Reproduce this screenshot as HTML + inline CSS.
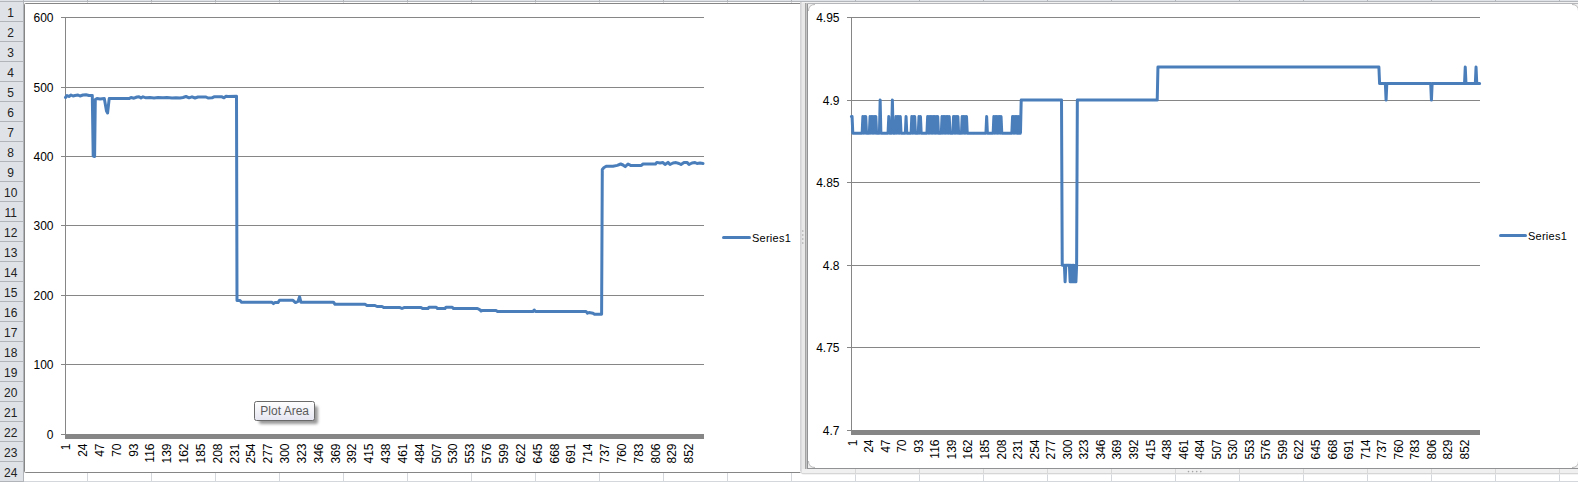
<!DOCTYPE html><html><head><meta charset="utf-8"><style>html,body{margin:0;padding:0;background:#fff;overflow:hidden}svg{display:block}text{font-family:"Liberation Sans",sans-serif}</style></head><body>
<svg width="1578" height="482" viewBox="0 0 1578 482">
<rect x="0" y="0" width="1578" height="482" fill="#fff"/>
<g fill="#d4d7dc">
<rect x="23" y="2" width="1" height="480"/>
<rect x="87" y="2" width="1" height="480"/>
<rect x="151" y="2" width="1" height="480"/>
<rect x="215" y="2" width="1" height="480"/>
<rect x="279" y="2" width="1" height="480"/>
<rect x="343" y="2" width="1" height="480"/>
<rect x="407" y="2" width="1" height="480"/>
<rect x="471" y="2" width="1" height="480"/>
<rect x="535" y="2" width="1" height="480"/>
<rect x="599" y="2" width="1" height="480"/>
<rect x="663" y="2" width="1" height="480"/>
<rect x="727" y="2" width="1" height="480"/>
<rect x="791" y="2" width="1" height="480"/>
<rect x="855" y="2" width="1" height="480"/>
<rect x="919" y="2" width="1" height="480"/>
<rect x="983" y="2" width="1" height="480"/>
<rect x="1047" y="2" width="1" height="480"/>
<rect x="1111" y="2" width="1" height="480"/>
<rect x="1175" y="2" width="1" height="480"/>
<rect x="1239" y="2" width="1" height="480"/>
<rect x="1303" y="2" width="1" height="480"/>
<rect x="1367" y="2" width="1" height="480"/>
<rect x="1431" y="2" width="1" height="480"/>
<rect x="1495" y="2" width="1" height="480"/>
<rect x="1559" y="2" width="1" height="480"/>
<rect x="1623" y="2" width="1" height="480"/>
<rect x="23" y="21" width="1555" height="1"/>
<rect x="23" y="41" width="1555" height="1"/>
<rect x="23" y="61" width="1555" height="1"/>
<rect x="23" y="81" width="1555" height="1"/>
<rect x="23" y="101" width="1555" height="1"/>
<rect x="23" y="121" width="1555" height="1"/>
<rect x="23" y="141" width="1555" height="1"/>
<rect x="23" y="161" width="1555" height="1"/>
<rect x="23" y="181" width="1555" height="1"/>
<rect x="23" y="201" width="1555" height="1"/>
<rect x="23" y="221" width="1555" height="1"/>
<rect x="23" y="241" width="1555" height="1"/>
<rect x="23" y="261" width="1555" height="1"/>
<rect x="23" y="281" width="1555" height="1"/>
<rect x="23" y="301" width="1555" height="1"/>
<rect x="23" y="321" width="1555" height="1"/>
<rect x="23" y="341" width="1555" height="1"/>
<rect x="23" y="361" width="1555" height="1"/>
<rect x="23" y="381" width="1555" height="1"/>
<rect x="23" y="401" width="1555" height="1"/>
<rect x="23" y="421" width="1555" height="1"/>
<rect x="23" y="441" width="1555" height="1"/>
<rect x="23" y="461" width="1555" height="1"/>
<rect x="23" y="481" width="1555" height="1"/>
</g>
<rect x="0" y="0" width="1578" height="1" fill="#e0e3e8"/>
<rect x="0" y="1" width="1578" height="1" fill="#b3b6bb"/>
<rect x="23" y="0" width="1" height="2" fill="#b3b6bb"/>
<rect x="87" y="0" width="1" height="2" fill="#b3b6bb"/>
<rect x="151" y="0" width="1" height="2" fill="#b3b6bb"/>
<rect x="215" y="0" width="1" height="2" fill="#b3b6bb"/>
<rect x="279" y="0" width="1" height="2" fill="#b3b6bb"/>
<rect x="343" y="0" width="1" height="2" fill="#b3b6bb"/>
<rect x="407" y="0" width="1" height="2" fill="#b3b6bb"/>
<rect x="471" y="0" width="1" height="2" fill="#b3b6bb"/>
<rect x="535" y="0" width="1" height="2" fill="#b3b6bb"/>
<rect x="599" y="0" width="1" height="2" fill="#b3b6bb"/>
<rect x="663" y="0" width="1" height="2" fill="#b3b6bb"/>
<rect x="727" y="0" width="1" height="2" fill="#b3b6bb"/>
<rect x="791" y="0" width="1" height="2" fill="#b3b6bb"/>
<rect x="855" y="0" width="1" height="2" fill="#b3b6bb"/>
<rect x="919" y="0" width="1" height="2" fill="#b3b6bb"/>
<rect x="983" y="0" width="1" height="2" fill="#b3b6bb"/>
<rect x="1047" y="0" width="1" height="2" fill="#b3b6bb"/>
<rect x="1111" y="0" width="1" height="2" fill="#b3b6bb"/>
<rect x="1175" y="0" width="1" height="2" fill="#b3b6bb"/>
<rect x="1239" y="0" width="1" height="2" fill="#b3b6bb"/>
<rect x="1303" y="0" width="1" height="2" fill="#b3b6bb"/>
<rect x="1367" y="0" width="1" height="2" fill="#b3b6bb"/>
<rect x="1431" y="0" width="1" height="2" fill="#b3b6bb"/>
<rect x="1495" y="0" width="1" height="2" fill="#b3b6bb"/>
<rect x="1559" y="0" width="1" height="2" fill="#b3b6bb"/>
<rect x="1623" y="0" width="1" height="2" fill="#b3b6bb"/>
<rect x="0" y="2" width="23" height="480" fill="#dfe3e8"/>
<rect x="23" y="0" width="1" height="482" fill="#b1b5ba"/>
<g fill="#b1b5ba">
<rect x="0" y="21" width="23" height="1"/>
<rect x="0" y="41" width="23" height="1"/>
<rect x="0" y="61" width="23" height="1"/>
<rect x="0" y="81" width="23" height="1"/>
<rect x="0" y="101" width="23" height="1"/>
<rect x="0" y="121" width="23" height="1"/>
<rect x="0" y="141" width="23" height="1"/>
<rect x="0" y="161" width="23" height="1"/>
<rect x="0" y="181" width="23" height="1"/>
<rect x="0" y="201" width="23" height="1"/>
<rect x="0" y="221" width="23" height="1"/>
<rect x="0" y="241" width="23" height="1"/>
<rect x="0" y="261" width="23" height="1"/>
<rect x="0" y="281" width="23" height="1"/>
<rect x="0" y="301" width="23" height="1"/>
<rect x="0" y="321" width="23" height="1"/>
<rect x="0" y="341" width="23" height="1"/>
<rect x="0" y="361" width="23" height="1"/>
<rect x="0" y="381" width="23" height="1"/>
<rect x="0" y="401" width="23" height="1"/>
<rect x="0" y="421" width="23" height="1"/>
<rect x="0" y="441" width="23" height="1"/>
<rect x="0" y="461" width="23" height="1"/>
<rect x="0" y="481" width="23" height="1"/>
</g>
<g font-size="12" fill="#222" text-anchor="middle">
<text x="10.7" y="16.5">1</text>
<text x="10.7" y="36.5">2</text>
<text x="10.7" y="56.5">3</text>
<text x="10.7" y="76.5">4</text>
<text x="10.7" y="96.5">5</text>
<text x="10.7" y="116.5">6</text>
<text x="10.7" y="136.5">7</text>
<text x="10.7" y="156.5">8</text>
<text x="10.7" y="176.5">9</text>
<text x="10.7" y="196.5">10</text>
<text x="10.7" y="216.5">11</text>
<text x="10.7" y="236.5">12</text>
<text x="10.7" y="256.5">13</text>
<text x="10.7" y="276.5">14</text>
<text x="10.7" y="296.5">15</text>
<text x="10.7" y="316.5">16</text>
<text x="10.7" y="336.5">17</text>
<text x="10.7" y="356.5">18</text>
<text x="10.7" y="376.5">19</text>
<text x="10.7" y="396.5">20</text>
<text x="10.7" y="416.5">21</text>
<text x="10.7" y="436.5">22</text>
<text x="10.7" y="456.5">23</text>
<text x="10.7" y="476.5">24</text>
</g>
<rect x="24.5" y="3.5" width="790" height="469" rx="1" fill="#fff" stroke="#868686" stroke-width="1"/>
<g fill="#868686">
<rect x="61" y="17" width="643" height="1"/>
<rect x="61" y="87" width="643" height="1"/>
<rect x="61" y="156" width="643" height="1"/>
<rect x="61" y="225" width="643" height="1"/>
<rect x="61" y="295" width="643" height="1"/>
<rect x="61" y="364" width="643" height="1"/>
<rect x="61" y="434" width="4" height="1"/>
<rect x="65" y="17" width="1" height="418"/>
<rect x="65" y="434" width="639" height="5"/>
</g>
<g font-size="12" fill="#000" text-anchor="end">
<text x="53.5" y="22.3">600</text>
<text x="53.5" y="92.3">500</text>
<text x="53.5" y="161.3">400</text>
<text x="53.5" y="230.3">300</text>
<text x="53.5" y="300.3">200</text>
<text x="53.5" y="369.3">100</text>
<text x="53.5" y="439.3">0</text>
</g>
<g font-size="12" fill="#000" text-anchor="end">
<text transform="translate(70.16,443.5) rotate(-90)" x="0" y="0">1</text>
<text transform="translate(87.00,443.5) rotate(-90)" x="0" y="0">24</text>
<text transform="translate(103.84,443.5) rotate(-90)" x="0" y="0">47</text>
<text transform="translate(120.68,443.5) rotate(-90)" x="0" y="0">70</text>
<text transform="translate(137.52,443.5) rotate(-90)" x="0" y="0">93</text>
<text transform="translate(154.36,443.5) rotate(-90)" x="0" y="0">116</text>
<text transform="translate(171.20,443.5) rotate(-90)" x="0" y="0">139</text>
<text transform="translate(188.04,443.5) rotate(-90)" x="0" y="0">162</text>
<text transform="translate(204.88,443.5) rotate(-90)" x="0" y="0">185</text>
<text transform="translate(221.72,443.5) rotate(-90)" x="0" y="0">208</text>
<text transform="translate(238.56,443.5) rotate(-90)" x="0" y="0">231</text>
<text transform="translate(255.40,443.5) rotate(-90)" x="0" y="0">254</text>
<text transform="translate(272.24,443.5) rotate(-90)" x="0" y="0">277</text>
<text transform="translate(289.08,443.5) rotate(-90)" x="0" y="0">300</text>
<text transform="translate(305.92,443.5) rotate(-90)" x="0" y="0">323</text>
<text transform="translate(322.76,443.5) rotate(-90)" x="0" y="0">346</text>
<text transform="translate(339.60,443.5) rotate(-90)" x="0" y="0">369</text>
<text transform="translate(356.44,443.5) rotate(-90)" x="0" y="0">392</text>
<text transform="translate(373.28,443.5) rotate(-90)" x="0" y="0">415</text>
<text transform="translate(390.12,443.5) rotate(-90)" x="0" y="0">438</text>
<text transform="translate(406.96,443.5) rotate(-90)" x="0" y="0">461</text>
<text transform="translate(423.80,443.5) rotate(-90)" x="0" y="0">484</text>
<text transform="translate(440.64,443.5) rotate(-90)" x="0" y="0">507</text>
<text transform="translate(457.48,443.5) rotate(-90)" x="0" y="0">530</text>
<text transform="translate(474.32,443.5) rotate(-90)" x="0" y="0">553</text>
<text transform="translate(491.16,443.5) rotate(-90)" x="0" y="0">576</text>
<text transform="translate(508.00,443.5) rotate(-90)" x="0" y="0">599</text>
<text transform="translate(524.84,443.5) rotate(-90)" x="0" y="0">622</text>
<text transform="translate(541.68,443.5) rotate(-90)" x="0" y="0">645</text>
<text transform="translate(558.52,443.5) rotate(-90)" x="0" y="0">668</text>
<text transform="translate(575.36,443.5) rotate(-90)" x="0" y="0">691</text>
<text transform="translate(592.20,443.5) rotate(-90)" x="0" y="0">714</text>
<text transform="translate(609.04,443.5) rotate(-90)" x="0" y="0">737</text>
<text transform="translate(625.88,443.5) rotate(-90)" x="0" y="0">760</text>
<text transform="translate(642.72,443.5) rotate(-90)" x="0" y="0">783</text>
<text transform="translate(659.56,443.5) rotate(-90)" x="0" y="0">806</text>
<text transform="translate(676.40,443.5) rotate(-90)" x="0" y="0">829</text>
<text transform="translate(693.24,443.5) rotate(-90)" x="0" y="0">852</text>
</g>
<polyline points="65.50,97.50 67.00,95.50 69.00,96.50 71.00,95.00 73.00,96.00 75.00,95.50 78.00,95.00 80.00,96.00 83.00,95.00 86.00,94.80 89.00,95.50 92.30,95.50 93.20,156.00 94.60,156.50 95.30,99.50 97.00,98.50 100.00,99.00 104.30,98.50 106.50,111.00 107.60,113.00 109.20,98.60 129.00,98.60 131.00,97.50 134.00,98.20 137.00,97.00 139.00,96.80 141.00,98.00 143.00,96.80 146.00,97.80 150.00,97.60 154.00,98.00 158.00,97.50 163.00,97.80 167.00,97.50 172.00,98.00 176.00,97.80 180.00,98.00 183.00,97.50 186.00,96.50 189.00,97.80 192.00,96.80 195.00,98.00 198.00,97.00 206.00,97.00 208.00,98.00 212.00,97.80 214.00,96.80 222.00,96.80 224.00,97.80 226.00,96.20 228.00,96.50 236.50,96.30 237.00,300.40 240.00,300.60 241.50,302.30 272.00,302.30 273.50,303.60 275.00,302.60 278.00,302.60 279.50,300.30 293.00,300.30 295.50,302.60 298.00,301.50 299.60,296.80 301.00,302.30 333.50,302.30 335.00,304.20 365.00,304.20 367.00,305.50 375.00,305.50 377.00,306.50 382.00,306.50 384.00,307.60 400.00,307.60 402.00,308.50 404.00,307.60 421.00,307.50 422.50,308.50 428.00,308.50 429.00,307.20 436.00,307.20 437.50,308.50 445.00,308.50 446.00,307.20 452.00,307.20 453.50,308.50 477.50,308.50 480.00,309.80 481.00,311.00 482.50,310.40 496.00,310.40 497.50,311.40 533.00,311.40 534.20,310.00 535.50,311.40 586.00,311.40 587.50,313.20 589.00,312.50 593.00,313.20 594.50,314.20 601.60,314.20 602.30,169.50 604.00,167.50 606.60,166.20 613.00,166.20 617.30,165.40 620.70,164.00 623.00,165.00 625.20,166.60 628.00,164.00 630.60,165.40 641.40,165.40 643.00,164.00 655.50,164.10 656.80,162.40 660.00,163.00 663.00,162.60 665.00,164.50 668.00,162.40 670.00,164.50 673.00,163.00 676.00,162.60 679.00,163.50 681.00,164.50 684.00,162.50 687.00,162.40 689.00,164.50 692.00,163.00 695.00,162.50 697.00,163.50 700.00,163.00 703.00,163.50" fill="none" stroke="#4a7ebb" stroke-width="3" stroke-linejoin="round" stroke-linecap="round"/>
<line x1="723.5" y1="237.5" x2="749.5" y2="237.5" stroke="#4a7ebb" stroke-width="3" stroke-linecap="round"/>
<text x="752" y="241.5" font-size="11" letter-spacing="0.25" fill="#000">Series1</text>
<defs><linearGradient id="tg" x1="0" y1="0" x2="0" y2="1"><stop offset="0" stop-color="#ffffff"/><stop offset="1" stop-color="#e4e5f0"/></linearGradient><filter id="sh" x="-20%" y="-20%" width="150%" height="160%"><feGaussianBlur stdDeviation="1.5"/></filter></defs>
<rect x="259" y="406" width="59" height="18" rx="2" fill="#000" opacity="0.4" filter="url(#sh)"/>
<rect x="254.5" y="401.5" width="60" height="19" rx="2" fill="url(#tg)" stroke="#6a6a6a" stroke-width="1"/>
<text x="260.3" y="415.3" font-size="12" fill="#5a5a5a">Plot Area</text>
<path d="M800,2 L1578,2 L1578,474.6 L803.5,474.6 Q800,474.6 800,471 Z" fill="#e8e8e8"/>
<rect x="800" y="2" width="1" height="469" fill="#d4d4d6"/>
<rect x="801" y="2" width="1" height="471" fill="#dcdcde"/>
<rect x="802" y="469" width="776" height="5" fill="#f0f0f0"/>
<rect x="802" y="473" width="776" height="1" fill="#d6d6d6"/>
<rect x="855" y="469" width="1" height="5" fill="#d8d8d8"/>
<rect x="919" y="469" width="1" height="5" fill="#d8d8d8"/>
<rect x="983" y="469" width="1" height="5" fill="#d8d8d8"/>
<rect x="1047" y="469" width="1" height="5" fill="#d8d8d8"/>
<rect x="1111" y="469" width="1" height="5" fill="#d8d8d8"/>
<rect x="1175" y="469" width="1" height="5" fill="#d8d8d8"/>
<rect x="1239" y="469" width="1" height="5" fill="#d8d8d8"/>
<rect x="1303" y="469" width="1" height="5" fill="#d8d8d8"/>
<rect x="1367" y="469" width="1" height="5" fill="#d8d8d8"/>
<rect x="1431" y="469" width="1" height="5" fill="#d8d8d8"/>
<rect x="1495" y="469" width="1" height="5" fill="#d8d8d8"/>
<rect x="1559" y="469" width="1" height="5" fill="#d8d8d8"/>
<rect x="1623" y="469" width="1" height="5" fill="#d8d8d8"/>
<rect x="805" y="2" width="1" height="467" fill="#a4a4a4"/>
<rect x="806" y="2" width="1" height="467" fill="#c4c4c4"/>
<rect x="807" y="3" width="772" height="466" fill="#f0f0f0"/>
<rect x="807" y="3" width="1" height="466" fill="#909294"/>
<rect x="807" y="468" width="772" height="1" fill="#909294"/>
<rect x="802" y="2" width="776" height="1" fill="#f2f2f2"/>
<rect x="807" y="3" width="772" height="1" fill="#b5b6b9"/>
<path d="M808,11 Q808,4 815,4 L1572,4 Q1579,4 1579,11 L1579,461 Q1579,468 1572,468 L815,468 Q808,468 808,461 Z" fill="#fff"/>
<g fill="none" stroke="#b8b8b8" stroke-width="1"><path d="M808.5,11 Q808.5,4.5 815,4.5"/><path d="M808.5,461 Q808.5,467.5 815,467.5"/><path d="M1572,4.5 Q1578.5,4.5 1578.5,11"/><path d="M1572,467.5 Q1578.5,467.5 1578.5,461"/></g>
<g fill="#a4a4a4">
<circle cx="802.8" cy="231" r="0.8"/>
<circle cx="802.8" cy="235" r="0.8"/>
<circle cx="802.8" cy="239" r="0.8"/>
<circle cx="802.8" cy="243" r="0.8"/>
<circle cx="1188.5" cy="471.6" r="0.8"/>
<circle cx="1192.6" cy="471.6" r="0.8"/>
<circle cx="1196.7" cy="471.6" r="0.8"/>
<circle cx="1200.8" cy="471.6" r="0.8"/>
</g>
<g fill="#868686">
<rect x="847" y="17" width="633" height="1"/>
<rect x="847" y="100" width="633" height="1"/>
<rect x="847" y="182" width="633" height="1"/>
<rect x="847" y="265" width="633" height="1"/>
<rect x="847" y="347" width="633" height="1"/>
<rect x="847" y="430" width="4" height="1"/>
<rect x="851" y="17" width="1" height="414"/>
<rect x="851" y="430" width="629" height="5"/>
</g>
<g font-size="12" fill="#000" text-anchor="end">
<text x="839.5" y="22.3">4.95</text>
<text x="839.5" y="105.3">4.9</text>
<text x="839.5" y="187.3">4.85</text>
<text x="839.5" y="270.3">4.8</text>
<text x="839.5" y="352.3">4.75</text>
<text x="839.5" y="435.3">4.7</text>
</g>
<g font-size="12" fill="#000" text-anchor="end">
<text transform="translate(856.55,439.5) rotate(-90)" x="0" y="0">1</text>
<text transform="translate(873.10,439.5) rotate(-90)" x="0" y="0">24</text>
<text transform="translate(889.66,439.5) rotate(-90)" x="0" y="0">47</text>
<text transform="translate(906.21,439.5) rotate(-90)" x="0" y="0">70</text>
<text transform="translate(922.76,439.5) rotate(-90)" x="0" y="0">93</text>
<text transform="translate(939.32,439.5) rotate(-90)" x="0" y="0">116</text>
<text transform="translate(955.87,439.5) rotate(-90)" x="0" y="0">139</text>
<text transform="translate(972.42,439.5) rotate(-90)" x="0" y="0">162</text>
<text transform="translate(988.97,439.5) rotate(-90)" x="0" y="0">185</text>
<text transform="translate(1005.53,439.5) rotate(-90)" x="0" y="0">208</text>
<text transform="translate(1022.08,439.5) rotate(-90)" x="0" y="0">231</text>
<text transform="translate(1038.63,439.5) rotate(-90)" x="0" y="0">254</text>
<text transform="translate(1055.19,439.5) rotate(-90)" x="0" y="0">277</text>
<text transform="translate(1071.74,439.5) rotate(-90)" x="0" y="0">300</text>
<text transform="translate(1088.29,439.5) rotate(-90)" x="0" y="0">323</text>
<text transform="translate(1104.85,439.5) rotate(-90)" x="0" y="0">346</text>
<text transform="translate(1121.40,439.5) rotate(-90)" x="0" y="0">369</text>
<text transform="translate(1137.95,439.5) rotate(-90)" x="0" y="0">392</text>
<text transform="translate(1154.50,439.5) rotate(-90)" x="0" y="0">415</text>
<text transform="translate(1171.06,439.5) rotate(-90)" x="0" y="0">438</text>
<text transform="translate(1187.61,439.5) rotate(-90)" x="0" y="0">461</text>
<text transform="translate(1204.16,439.5) rotate(-90)" x="0" y="0">484</text>
<text transform="translate(1220.72,439.5) rotate(-90)" x="0" y="0">507</text>
<text transform="translate(1237.27,439.5) rotate(-90)" x="0" y="0">530</text>
<text transform="translate(1253.82,439.5) rotate(-90)" x="0" y="0">553</text>
<text transform="translate(1270.38,439.5) rotate(-90)" x="0" y="0">576</text>
<text transform="translate(1286.93,439.5) rotate(-90)" x="0" y="0">599</text>
<text transform="translate(1303.48,439.5) rotate(-90)" x="0" y="0">622</text>
<text transform="translate(1320.03,439.5) rotate(-90)" x="0" y="0">645</text>
<text transform="translate(1336.59,439.5) rotate(-90)" x="0" y="0">668</text>
<text transform="translate(1353.14,439.5) rotate(-90)" x="0" y="0">691</text>
<text transform="translate(1369.69,439.5) rotate(-90)" x="0" y="0">714</text>
<text transform="translate(1386.25,439.5) rotate(-90)" x="0" y="0">737</text>
<text transform="translate(1402.80,439.5) rotate(-90)" x="0" y="0">760</text>
<text transform="translate(1419.35,439.5) rotate(-90)" x="0" y="0">783</text>
<text transform="translate(1435.90,439.5) rotate(-90)" x="0" y="0">806</text>
<text transform="translate(1452.46,439.5) rotate(-90)" x="0" y="0">829</text>
<text transform="translate(1469.01,439.5) rotate(-90)" x="0" y="0">852</text>
</g>
<polyline points="851.36,116.62 852.08,116.62 852.80,133.14 853.52,133.14 854.24,133.14 854.96,133.14 855.68,133.14 856.40,133.14 857.12,133.14 857.84,133.14 858.56,133.14 859.28,133.14 860.00,133.14 860.72,133.14 861.44,133.14 862.16,133.14 862.87,116.62 863.59,133.14 864.31,116.62 865.03,133.14 865.75,116.62 866.47,133.14 867.19,133.14 867.91,133.14 868.63,133.14 869.35,133.14 870.07,116.62 870.79,133.14 871.51,116.62 872.23,133.14 872.95,116.62 873.67,133.14 874.39,116.62 875.11,133.14 875.83,116.62 876.55,133.14 877.27,133.14 877.99,133.14 878.71,133.14 879.43,133.14 880.15,100.10 880.87,133.14 881.59,133.14 882.31,133.14 883.03,133.14 883.75,133.14 884.47,133.14 885.18,133.14 885.90,133.14 886.62,133.14 887.34,133.14 888.06,133.14 888.78,116.62 889.50,133.14 890.22,133.14 890.94,133.14 891.66,133.14 892.38,100.10 893.10,133.14 893.82,133.14 894.54,133.14 895.26,133.14 895.98,116.62 896.70,133.14 897.42,116.62 898.14,133.14 898.86,116.62 899.58,133.14 900.30,116.62 901.02,133.14 901.74,133.14 902.46,133.14 903.18,133.14 903.90,133.14 904.62,133.14 905.34,133.14 906.06,116.62 906.78,133.14 907.49,133.14 908.21,133.14 908.93,133.14 909.65,133.14 910.37,133.14 911.09,133.14 911.81,116.62 912.53,133.14 913.25,116.62 913.97,133.14 914.69,116.62 915.41,133.14 916.13,133.14 916.85,133.14 917.57,133.14 918.29,133.14 919.01,116.62 919.73,133.14 920.45,116.62 921.17,133.14 921.89,133.14 922.61,133.14 923.33,133.14 924.05,133.14 924.77,133.14 925.49,133.14 926.21,133.14 926.93,133.14 927.65,116.62 928.37,133.14 929.09,116.62 929.80,133.14 930.52,116.62 931.24,133.14 931.96,116.62 932.68,133.14 933.40,116.62 934.12,133.14 934.84,116.62 935.56,133.14 936.28,116.62 937.00,133.14 937.72,116.62 938.44,133.14 939.16,133.14 939.88,133.14 940.60,133.14 941.32,133.14 942.04,116.62 942.76,133.14 943.48,116.62 944.20,133.14 944.92,116.62 945.64,133.14 946.36,116.62 947.08,133.14 947.80,116.62 948.52,133.14 949.24,116.62 949.96,133.14 950.68,133.14 951.40,133.14 952.11,133.14 952.83,133.14 953.55,116.62 954.27,133.14 954.99,116.62 955.71,133.14 956.43,116.62 957.15,133.14 957.87,116.62 958.59,133.14 959.31,133.14 960.03,133.14 960.75,133.14 961.47,133.14 962.19,116.62 962.91,133.14 963.63,116.62 964.35,133.14 965.07,116.62 965.79,133.14 966.51,116.62 967.23,133.14 967.95,133.14 968.67,133.14 969.39,133.14 970.11,133.14 970.83,133.14 971.55,133.14 972.27,133.14 972.99,133.14 973.71,133.14 974.43,133.14 975.14,133.14 975.86,133.14 976.58,133.14 977.30,133.14 978.02,133.14 978.74,133.14 979.46,133.14 980.18,133.14 980.90,133.14 981.62,133.14 982.34,133.14 983.06,133.14 983.78,133.14 984.50,133.14 985.22,133.14 985.94,133.14 986.66,116.62 987.38,133.14 988.10,133.14 988.82,133.14 989.54,133.14 990.26,133.14 990.98,133.14 991.70,133.14 992.42,133.14 993.14,133.14 993.86,116.62 994.58,133.14 995.30,116.62 996.02,133.14 996.74,116.62 997.45,133.14 998.17,116.62 998.89,133.14 999.61,116.62 1000.33,133.14 1001.05,116.62 1001.77,133.14 1002.49,133.14 1003.21,133.14 1003.93,133.14 1004.65,133.14 1005.37,133.14 1006.09,133.14 1006.81,133.14 1007.53,133.14 1008.25,133.14 1008.97,133.14 1009.69,133.14 1010.41,133.14 1011.13,133.14 1011.85,133.14 1012.57,116.62 1013.29,133.14 1014.01,116.62 1014.73,133.14 1015.45,116.62 1016.17,133.14 1016.89,116.62 1017.61,133.14 1018.33,116.62 1019.05,133.14 1019.76,116.62 1020.48,133.14 1021.20,100.10 1021.92,100.10 1022.64,100.10 1023.36,100.10 1024.08,100.10 1024.80,100.10 1025.52,100.10 1026.24,100.10 1026.96,100.10 1027.68,100.10 1028.40,100.10 1029.12,100.10 1029.84,100.10 1030.56,100.10 1031.28,100.10 1032.00,100.10 1032.72,100.10 1033.44,100.10 1034.16,100.10 1034.88,100.10 1035.60,100.10 1036.32,100.10 1037.04,100.10 1037.76,100.10 1038.48,100.10 1039.20,100.10 1039.92,100.10 1040.64,100.10 1041.36,100.10 1042.07,100.10 1042.79,100.10 1043.51,100.10 1044.23,100.10 1044.95,100.10 1045.67,100.10 1046.39,100.10 1047.11,100.10 1047.83,100.10 1048.55,100.10 1049.27,100.10 1049.99,100.10 1050.71,100.10 1051.43,100.10 1052.15,100.10 1052.87,100.10 1053.59,100.10 1054.31,100.10 1055.03,100.10 1055.75,100.10 1056.47,100.10 1057.19,100.10 1057.91,100.10 1058.63,100.10 1059.35,100.10 1060.07,100.10 1060.79,100.10 1061.51,100.10 1062.23,265.30 1062.95,265.30 1063.67,265.30 1064.39,265.30 1065.10,281.82 1065.82,265.30 1066.54,265.30 1067.26,265.30 1067.98,265.30 1068.70,265.30 1069.42,265.30 1070.14,281.82 1070.86,265.30 1071.58,281.82 1072.30,265.30 1073.02,281.82 1073.74,265.30 1074.46,281.82 1075.18,265.30 1075.90,281.82 1076.62,265.30 1077.34,100.10 1078.06,100.10 1078.78,100.10 1079.50,100.10 1080.22,100.10 1080.94,100.10 1081.66,100.10 1082.38,100.10 1083.10,100.10 1083.82,100.10 1084.54,100.10 1085.26,100.10 1085.98,100.10 1086.70,100.10 1087.41,100.10 1088.13,100.10 1088.85,100.10 1089.57,100.10 1090.29,100.10 1091.01,100.10 1091.73,100.10 1092.45,100.10 1093.17,100.10 1093.89,100.10 1094.61,100.10 1095.33,100.10 1096.05,100.10 1096.77,100.10 1097.49,100.10 1098.21,100.10 1098.93,100.10 1099.65,100.10 1100.37,100.10 1101.09,100.10 1101.81,100.10 1102.53,100.10 1103.25,100.10 1103.97,100.10 1104.69,100.10 1105.41,100.10 1106.13,100.10 1106.85,100.10 1107.57,100.10 1108.29,100.10 1109.01,100.10 1109.72,100.10 1110.44,100.10 1111.16,100.10 1111.88,100.10 1112.60,100.10 1113.32,100.10 1114.04,100.10 1114.76,100.10 1115.48,100.10 1116.20,100.10 1116.92,100.10 1117.64,100.10 1118.36,100.10 1119.08,100.10 1119.80,100.10 1120.52,100.10 1121.24,100.10 1121.96,100.10 1122.68,100.10 1123.40,100.10 1124.12,100.10 1124.84,100.10 1125.56,100.10 1126.28,100.10 1127.00,100.10 1127.72,100.10 1128.44,100.10 1129.16,100.10 1129.88,100.10 1130.60,100.10 1131.32,100.10 1132.03,100.10 1132.75,100.10 1133.47,100.10 1134.19,100.10 1134.91,100.10 1135.63,100.10 1136.35,100.10 1137.07,100.10 1137.79,100.10 1138.51,100.10 1139.23,100.10 1139.95,100.10 1140.67,100.10 1141.39,100.10 1142.11,100.10 1142.83,100.10 1143.55,100.10 1144.27,100.10 1144.99,100.10 1145.71,100.10 1146.43,100.10 1147.15,100.10 1147.87,100.10 1148.59,100.10 1149.31,100.10 1150.03,100.10 1150.75,100.10 1151.47,100.10 1152.19,100.10 1152.91,100.10 1153.63,100.10 1154.34,100.10 1155.06,100.10 1155.78,100.10 1156.50,100.10 1157.22,100.10 1157.94,67.06 1158.66,67.06 1159.38,67.06 1160.10,67.06 1160.82,67.06 1161.54,67.06 1162.26,67.06 1162.98,67.06 1163.70,67.06 1164.42,67.06 1165.14,67.06 1165.86,67.06 1166.58,67.06 1167.30,67.06 1168.02,67.06 1168.74,67.06 1169.46,67.06 1170.18,67.06 1170.90,67.06 1171.62,67.06 1172.34,67.06 1173.06,67.06 1173.78,67.06 1174.50,67.06 1175.22,67.06 1175.94,67.06 1176.66,67.06 1177.37,67.06 1178.09,67.06 1178.81,67.06 1179.53,67.06 1180.25,67.06 1180.97,67.06 1181.69,67.06 1182.41,67.06 1183.13,67.06 1183.85,67.06 1184.57,67.06 1185.29,67.06 1186.01,67.06 1186.73,67.06 1187.45,67.06 1188.17,67.06 1188.89,67.06 1189.61,67.06 1190.33,67.06 1191.05,67.06 1191.77,67.06 1192.49,67.06 1193.21,67.06 1193.93,67.06 1194.65,67.06 1195.37,67.06 1196.09,67.06 1196.81,67.06 1197.53,67.06 1198.25,67.06 1198.97,67.06 1199.68,67.06 1200.40,67.06 1201.12,67.06 1201.84,67.06 1202.56,67.06 1203.28,67.06 1204.00,67.06 1204.72,67.06 1205.44,67.06 1206.16,67.06 1206.88,67.06 1207.60,67.06 1208.32,67.06 1209.04,67.06 1209.76,67.06 1210.48,67.06 1211.20,67.06 1211.92,67.06 1212.64,67.06 1213.36,67.06 1214.08,67.06 1214.80,67.06 1215.52,67.06 1216.24,67.06 1216.96,67.06 1217.68,67.06 1218.40,67.06 1219.12,67.06 1219.84,67.06 1220.56,67.06 1221.28,67.06 1221.99,67.06 1222.71,67.06 1223.43,67.06 1224.15,67.06 1224.87,67.06 1225.59,67.06 1226.31,67.06 1227.03,67.06 1227.75,67.06 1228.47,67.06 1229.19,67.06 1229.91,67.06 1230.63,67.06 1231.35,67.06 1232.07,67.06 1232.79,67.06 1233.51,67.06 1234.23,67.06 1234.95,67.06 1235.67,67.06 1236.39,67.06 1237.11,67.06 1237.83,67.06 1238.55,67.06 1239.27,67.06 1239.99,67.06 1240.71,67.06 1241.43,67.06 1242.15,67.06 1242.87,67.06 1243.59,67.06 1244.30,67.06 1245.02,67.06 1245.74,67.06 1246.46,67.06 1247.18,67.06 1247.90,67.06 1248.62,67.06 1249.34,67.06 1250.06,67.06 1250.78,67.06 1251.50,67.06 1252.22,67.06 1252.94,67.06 1253.66,67.06 1254.38,67.06 1255.10,67.06 1255.82,67.06 1256.54,67.06 1257.26,67.06 1257.98,67.06 1258.70,67.06 1259.42,67.06 1260.14,67.06 1260.86,67.06 1261.58,67.06 1262.30,67.06 1263.02,67.06 1263.74,67.06 1264.46,67.06 1265.18,67.06 1265.90,67.06 1266.61,67.06 1267.33,67.06 1268.05,67.06 1268.77,67.06 1269.49,67.06 1270.21,67.06 1270.93,67.06 1271.65,67.06 1272.37,67.06 1273.09,67.06 1273.81,67.06 1274.53,67.06 1275.25,67.06 1275.97,67.06 1276.69,67.06 1277.41,67.06 1278.13,67.06 1278.85,67.06 1279.57,67.06 1280.29,67.06 1281.01,67.06 1281.73,67.06 1282.45,67.06 1283.17,67.06 1283.89,67.06 1284.61,67.06 1285.33,67.06 1286.05,67.06 1286.77,67.06 1287.49,67.06 1288.21,67.06 1288.93,67.06 1289.64,67.06 1290.36,67.06 1291.08,67.06 1291.80,67.06 1292.52,67.06 1293.24,67.06 1293.96,67.06 1294.68,67.06 1295.40,67.06 1296.12,67.06 1296.84,67.06 1297.56,67.06 1298.28,67.06 1299.00,67.06 1299.72,67.06 1300.44,67.06 1301.16,67.06 1301.88,67.06 1302.60,67.06 1303.32,67.06 1304.04,67.06 1304.76,67.06 1305.48,67.06 1306.20,67.06 1306.92,67.06 1307.64,67.06 1308.36,67.06 1309.08,67.06 1309.80,67.06 1310.52,67.06 1311.24,67.06 1311.95,67.06 1312.67,67.06 1313.39,67.06 1314.11,67.06 1314.83,67.06 1315.55,67.06 1316.27,67.06 1316.99,67.06 1317.71,67.06 1318.43,67.06 1319.15,67.06 1319.87,67.06 1320.59,67.06 1321.31,67.06 1322.03,67.06 1322.75,67.06 1323.47,67.06 1324.19,67.06 1324.91,67.06 1325.63,67.06 1326.35,67.06 1327.07,67.06 1327.79,67.06 1328.51,67.06 1329.23,67.06 1329.95,67.06 1330.67,67.06 1331.39,67.06 1332.11,67.06 1332.83,67.06 1333.55,67.06 1334.26,67.06 1334.98,67.06 1335.70,67.06 1336.42,67.06 1337.14,67.06 1337.86,67.06 1338.58,67.06 1339.30,67.06 1340.02,67.06 1340.74,67.06 1341.46,67.06 1342.18,67.06 1342.90,67.06 1343.62,67.06 1344.34,67.06 1345.06,67.06 1345.78,67.06 1346.50,67.06 1347.22,67.06 1347.94,67.06 1348.66,67.06 1349.38,67.06 1350.10,67.06 1350.82,67.06 1351.54,67.06 1352.26,67.06 1352.98,67.06 1353.70,67.06 1354.42,67.06 1355.14,67.06 1355.86,67.06 1356.57,67.06 1357.29,67.06 1358.01,67.06 1358.73,67.06 1359.45,67.06 1360.17,67.06 1360.89,67.06 1361.61,67.06 1362.33,67.06 1363.05,67.06 1363.77,67.06 1364.49,67.06 1365.21,67.06 1365.93,67.06 1366.65,67.06 1367.37,67.06 1368.09,67.06 1368.81,67.06 1369.53,67.06 1370.25,67.06 1370.97,67.06 1371.69,67.06 1372.41,67.06 1373.13,67.06 1373.85,67.06 1374.57,67.06 1375.29,67.06 1376.01,67.06 1376.73,67.06 1377.45,67.06 1378.17,67.06 1378.89,67.06 1379.60,83.58 1380.32,83.58 1381.04,83.58 1381.76,83.58 1382.48,83.58 1383.20,83.58 1383.92,83.58 1384.64,83.58 1385.36,83.58 1386.08,100.10 1386.80,83.58 1387.52,83.58 1388.24,83.58 1388.96,83.58 1389.68,83.58 1390.40,83.58 1391.12,83.58 1391.84,83.58 1392.56,83.58 1393.28,83.58 1394.00,83.58 1394.72,83.58 1395.44,83.58 1396.16,83.58 1396.88,83.58 1397.60,83.58 1398.32,83.58 1399.04,83.58 1399.76,83.58 1400.48,83.58 1401.20,83.58 1401.91,83.58 1402.63,83.58 1403.35,83.58 1404.07,83.58 1404.79,83.58 1405.51,83.58 1406.23,83.58 1406.95,83.58 1407.67,83.58 1408.39,83.58 1409.11,83.58 1409.83,83.58 1410.55,83.58 1411.27,83.58 1411.99,83.58 1412.71,83.58 1413.43,83.58 1414.15,83.58 1414.87,83.58 1415.59,83.58 1416.31,83.58 1417.03,83.58 1417.75,83.58 1418.47,83.58 1419.19,83.58 1419.91,83.58 1420.63,83.58 1421.35,83.58 1422.07,83.58 1422.79,83.58 1423.51,83.58 1424.22,83.58 1424.94,83.58 1425.66,83.58 1426.38,83.58 1427.10,83.58 1427.82,83.58 1428.54,83.58 1429.26,83.58 1429.98,83.58 1430.70,83.58 1431.42,100.10 1432.14,83.58 1432.86,83.58 1433.58,83.58 1434.30,83.58 1435.02,83.58 1435.74,83.58 1436.46,83.58 1437.18,83.58 1437.90,83.58 1438.62,83.58 1439.34,83.58 1440.06,83.58 1440.78,83.58 1441.50,83.58 1442.22,83.58 1442.94,83.58 1443.66,83.58 1444.38,83.58 1445.10,83.58 1445.82,83.58 1446.53,83.58 1447.25,83.58 1447.97,83.58 1448.69,83.58 1449.41,83.58 1450.13,83.58 1450.85,83.58 1451.57,83.58 1452.29,83.58 1453.01,83.58 1453.73,83.58 1454.45,83.58 1455.17,83.58 1455.89,83.58 1456.61,83.58 1457.33,83.58 1458.05,83.58 1458.77,83.58 1459.49,83.58 1460.21,83.58 1460.93,83.58 1461.65,83.58 1462.37,83.58 1463.09,83.58 1463.81,83.58 1464.53,83.58 1465.25,67.06 1465.97,83.58 1466.69,83.58 1467.41,83.58 1468.13,83.58 1468.84,83.58 1469.56,83.58 1470.28,83.58 1471.00,83.58 1471.72,83.58 1472.44,83.58 1473.16,83.58 1473.88,83.58 1474.60,83.58 1475.32,83.58 1476.04,67.06 1476.76,83.58 1477.48,83.58 1478.20,83.58 1478.92,83.58 1479.64,83.58" fill="none" stroke="#4a7ebb" stroke-width="3" stroke-linejoin="round" stroke-linecap="round"/>
<line x1="1500.5" y1="235.5" x2="1525.5" y2="235.5" stroke="#4a7ebb" stroke-width="3" stroke-linecap="round"/>
<text x="1528" y="239.8" font-size="11" letter-spacing="0.25" fill="#000">Series1</text>
</svg></body></html>
